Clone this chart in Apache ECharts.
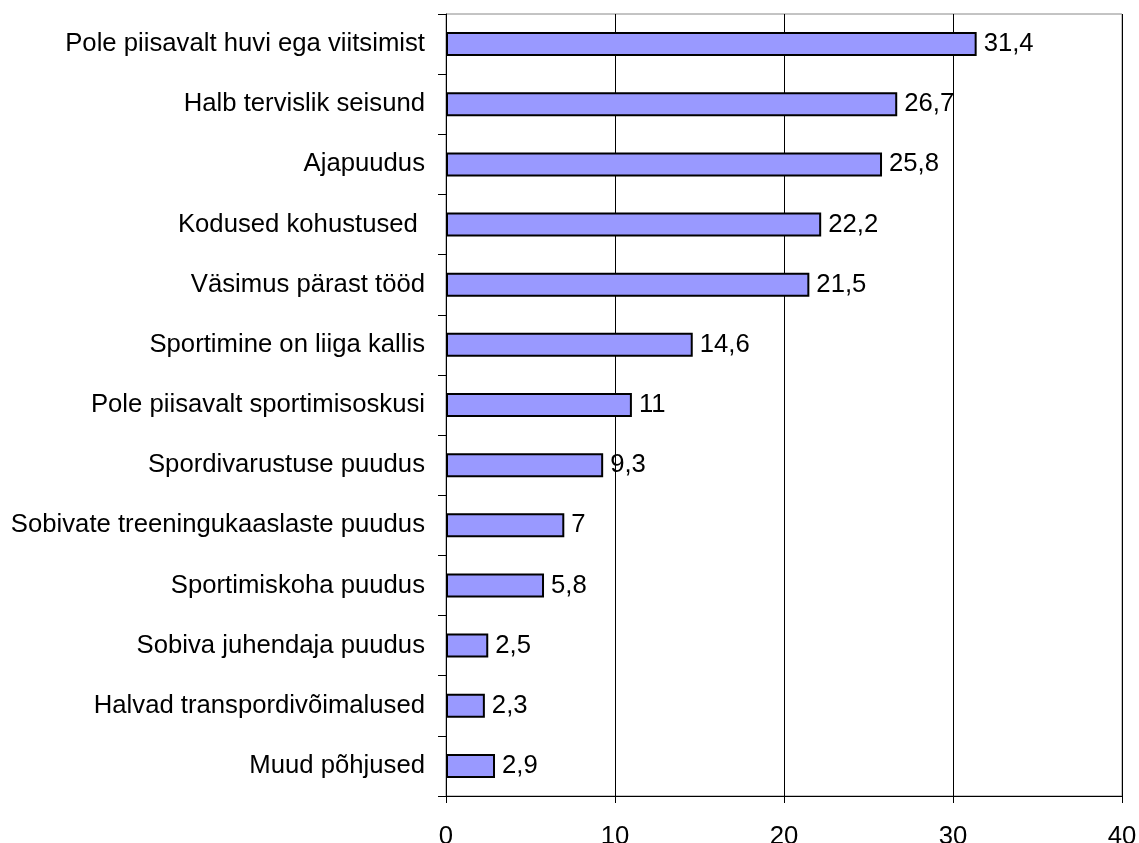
<!DOCTYPE html>
<html>
<head>
<meta charset="utf-8">
<script src="https://cdn.jsdelivr.net/npm/echarts@6/dist/echarts.min.js"></script>
<style>
  html, body { margin: 0; padding: 0; background: #fff; }
  #chart { width: 1139px; height: 843px; }
</style>
</head>
<body>
<div id="chart"></div>
<script>
var categories = [
  'Pole piisavalt huvi ega viitsimist',
  'Halb tervislik seisund',
  'Ajapuudus',
  'Kodused kohustused ',
  'Väsimus pärast tööd',
  'Sportimine on liiga kallis',
  'Pole piisavalt sportimisoskusi',
  'Spordivarustuse puudus',
  'Sobivate treeningukaaslaste puudus',
  'Sportimiskoha puudus',
  'Sobiva juhendaja puudus',
  'Halvad transpordivõimalused',
  'Muud põhjused'
];
var values = [31.4, 26.7, 25.8, 22.2, 21.5, 14.6, 11, 9.3, 7, 5.8, 2.5, 2.3, 2.9];

var chart = echarts.init(document.getElementById('chart'));
var font = '"Liberation Sans", Arial, sans-serif';

var option = {
  animation: false,
  grid: {
    left: 446, right: 17, top: 14, bottom: 47,
    outerBoundsMode: 'none',
    show: true, borderColor: '#888', borderWidth: 1
  },
  xAxis: {
    type: 'value',
    min: 0, max: 40, interval: 10,
    axisLine: { show: true, lineStyle: { color: '#000', width: 1 } },
    axisTick: { show: true, length: 7, lineStyle: { color: '#000' } },
    axisLabel: { color: '#000', fontFamily: font, fontSize: 25.7, margin: 28 },
    splitLine: { show: true, lineStyle: { color: '#000', width: 1 } }
  },
  yAxis: {
    type: 'category',
    inverse: true,
    data: categories,
    axisLine: { show: true, lineStyle: { color: '#000', width: 1 } },
    axisTick: { show: true, length: 8, lineStyle: { color: '#000' } },
    axisLabel: { color: '#000', fontFamily: font, fontSize: 25.7, margin: 21 }
  },
  series: [{
    type: 'bar',
    data: values,
    barWidth: 24,
    itemStyle: { color: '#9999ff', borderColor: '#000', borderWidth: 2 },
    label: {
      show: true,
      position: 'right',
      distance: 7,
      color: '#000',
      fontFamily: font,
      fontSize: 25.7,
      formatter: function (p) { return String(p.value).replace('.', ','); }
    }
  }]
};
chart.setOption(option);
</script>
</body>
</html>
